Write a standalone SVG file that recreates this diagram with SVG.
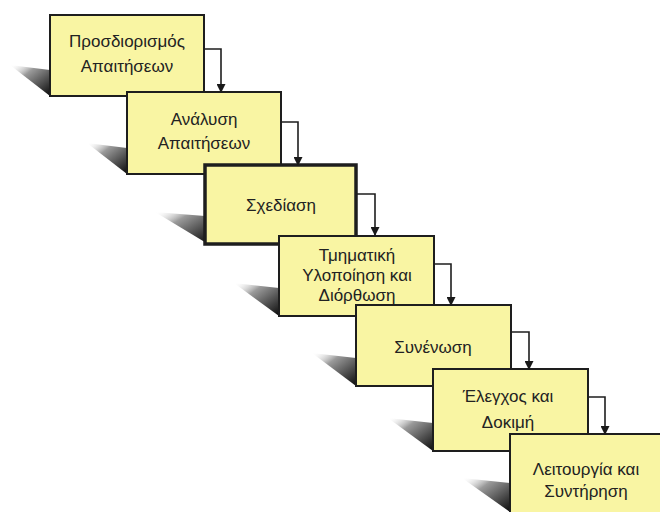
<svg xmlns="http://www.w3.org/2000/svg" width="660" height="512" viewBox="0 0 660 512">
<defs>
<linearGradient id="sh" x1="0" y1="0" x2="1" y2="1">
<stop offset="0" stop-color="#ffffff" stop-opacity="0"/>
<stop offset="0.35" stop-color="#9a9a9a"/>
<stop offset="1" stop-color="#0a0a0a"/>
</linearGradient>
<marker id="ah" viewBox="0 0 10 10" refX="9" refY="5" markerWidth="11" markerHeight="9" markerUnits="userSpaceOnUse" orient="auto">
<path d="M0,0 L10,5 L0,10 Z" fill="#1a1a1a"/>
</marker>
</defs>
<style>
.box{fill:#f9f5a3;stroke:#1e1e1e;stroke-width:2}
.thick{stroke-width:3.5}
.sh{fill:url(#sh)}
text{font-family:"Liberation Sans",Arial,sans-serif;font-size:17px;fill:#222;text-anchor:middle}
.conn{fill:none;stroke:#1e1e1e;stroke-width:1.6;marker-end:url(#ah)}
</style>
<rect width="660" height="512" fill="#ffffff"/>
<g id="shadows">
<polygon class="sh" points="10,65 50,70 50,96"/>
<polygon class="sh" points="87,143 127,148 127,174"/>
<polygon class="sh" points="155,212 205,216 208,244"/>
<polygon class="sh" points="234,283 279,288 279,316"/>
<polygon class="sh" points="312,353 356,358 356,386"/>
<polygon class="sh" points="388,418 433,423 433,451"/>
<polygon class="sh" points="462,478 510,483 510,512"/>
</g>
<g id="n1"><rect class="box" x="50" y="15" width="154" height="81"/><text x="127" y="47">Προσδιορισμός</text><text x="127" y="72">Απαιτήσεων</text></g>
<g id="n2"><rect class="box" x="127" y="92" width="154" height="82"/><text x="204" y="125">Ανάλυση</text><text x="204" y="149">Απαιτήσεων</text></g>
<g id="n3"><rect class="box thick" x="205" y="165" width="151" height="79"/><text x="281" y="211">Σχεδίαση</text></g>
<g id="n4"><rect class="box" x="279" y="236" width="155" height="80"/><text x="357" y="261">Τμηματική</text><text x="357" y="281">Υλοποίηση και</text><text x="357" y="301">Διόρθωση</text></g>
<g id="n5"><rect class="box" x="356" y="305" width="155" height="81"/><text x="433" y="353">Συνένωση</text></g>
<g id="n6"><rect class="box" x="433" y="369" width="155" height="82"/><text x="508" y="402">Έλεγχος και</text><text x="508" y="428">Δοκιμή</text></g>
<g id="n7"><rect class="box" x="510" y="434" width="170" height="90"/><text x="586" y="475">Λειτουργία και</text><text x="586" y="497">Συντήρηση</text></g>
<g id="connectors">
<path class="conn" d="M204 49 H221 V92"/>
<path class="conn" d="M281 122 H298 V165"/>
<path class="conn" d="M357 194 H375 V235"/>
<path class="conn" d="M434 264 H451 V305"/>
<path class="conn" d="M511 332 H529 V369"/>
<path class="conn" d="M588 397 H605 V434"/>
</g>
</svg>
